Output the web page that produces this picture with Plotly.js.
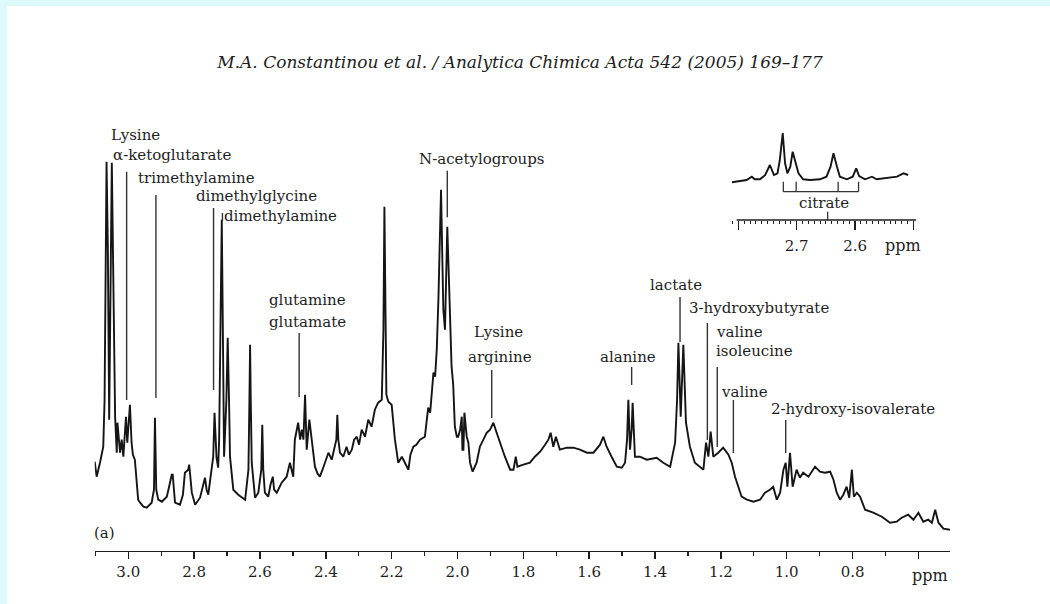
<!DOCTYPE html>
<html><head><meta charset="utf-8">
<script src="https://cdn.plot.ly/plotly-3.0.1.min.js"></script>
<style>html,body{margin:0;padding:0;background:#fff;} #chart{width:1050px;height:604px;}</style>
</head><body><div id="chart"></div>
<script>
// ---- data ----
const ppm = [3.102,3.096,3.086,3.076,3.072,3.069,3.066,3.062,3.058,3.050,3.046,3.040,3.035,3.033,3.025,3.020,3.015,3.007,3.003,2.995,2.990,2.986,2.980,2.974,2.970,2.964,2.954,2.944,2.929,2.922,2.919,2.915,2.909,2.898,2.883,2.876,2.868,2.865,2.858,2.843,2.834,2.828,2.818,2.815,2.807,2.797,2.782,2.767,2.762,2.757,2.747,2.742,2.738,2.732,2.727,2.724,2.719,2.716,2.713,2.709,2.702,2.698,2.694,2.691,2.681,2.666,2.645,2.635,2.632,2.630,2.628,2.625,2.615,2.605,2.596,2.593,2.590,2.585,2.575,2.568,2.561,2.557,2.549,2.534,2.519,2.509,2.499,2.494,2.484,2.478,2.473,2.468,2.463,2.458,2.450,2.443,2.433,2.425,2.418,2.410,2.402,2.392,2.382,2.372,2.368,2.365,2.362,2.357,2.347,2.337,2.330,2.321,2.314,2.306,2.299,2.291,2.281,2.271,2.261,2.251,2.241,2.230,2.225,2.222,2.219,2.216,2.210,2.200,2.190,2.180,2.169,2.159,2.149,2.143,2.134,2.125,2.114,2.099,2.089,2.083,2.073,2.068,2.063,2.058,2.055,2.050,2.046,2.043,2.038,2.034,2.031,2.026,2.023,2.018,2.013,2.008,2.002,1.998,1.992,1.987,1.985,1.982,1.979,1.972,1.967,1.962,1.954,1.942,1.932,1.922,1.911,1.901,1.891,1.881,1.871,1.856,1.840,1.830,1.823,1.818,1.800,1.780,1.765,1.749,1.734,1.724,1.717,1.709,1.701,1.689,1.668,1.648,1.628,1.607,1.587,1.567,1.557,1.547,1.532,1.516,1.501,1.491,1.485,1.481,1.476,1.471,1.468,1.464,1.461,1.446,1.425,1.395,1.375,1.354,1.339,1.333,1.329,1.322,1.314,1.306,1.294,1.279,1.263,1.253,1.245,1.238,1.231,1.223,1.208,1.193,1.177,1.167,1.157,1.147,1.137,1.121,1.101,1.081,1.066,1.051,1.041,1.030,1.020,1.010,1.003,0.998,0.990,0.982,0.970,0.960,0.950,0.934,0.914,0.899,0.884,0.868,0.858,0.848,0.838,0.828,0.818,0.810,0.802,0.796,0.787,0.777,0.762,0.737,0.711,0.686,0.666,0.651,0.631,0.615,0.600,0.585,0.570,0.559,0.549,0.539,0.524,0.504];
const intensity = [89,74,88,104,151,251,389,301,131,388,278,134,98,128,98,111,94,134,108,146,108,96,91,71,51,48,44,43,48,61,133,61,51,49,54,64,76,76,48,46,56,78,81,86,58,46,53,73,61,56,81,94,138,93,83,111,251,331,231,94,151,213,151,94,61,56,51,81,151,206,151,88,53,58,81,126,81,58,54,66,74,61,58,68,74,88,74,111,128,111,121,111,156,101,131,111,84,77,74,81,88,98,91,104,111,136,111,98,94,104,96,101,111,114,106,121,114,131,124,141,148,151,221,344,221,156,149,146,111,88,94,88,81,96,104,106,111,114,143,138,178,174,201,251,294,361,291,241,221,271,324,271,234,184,166,124,114,114,121,134,101,101,138,114,108,88,79,88,104,111,118,121,128,118,108,94,81,81,94,84,86,88,94,99,106,111,118,104,114,101,103,103,101,98,98,106,114,104,94,84,83,88,111,151,101,121,148,111,94,94,91,93,88,84,108,151,208,134,206,128,104,88,84,81,108,94,119,94,98,103,96,88,74,64,54,51,49,51,58,61,64,51,58,81,88,64,98,64,81,73,78,74,84,79,78,79,71,58,51,56,64,53,81,54,58,54,41,38,34,28,29,33,36,31,38,29,31,28,41,28,22,21];

const insetPpm = [2.811,2.797,2.786,2.777,2.772,2.763,2.754,2.746,2.739,2.733,2.729,2.724,2.720,2.716,2.711,2.707,2.703,2.697,2.689,2.677,2.660,2.649,2.642,2.637,2.631,2.626,2.614,2.604,2.598,2.593,2.583,2.571,2.563,2.546,2.528,2.517,2.509];
const insetIntensity = [2.7,4.3,5,8.3,5.7,5.7,10,20,10,11.7,25,52,21.7,11.7,18.3,33.3,25,11.7,5.7,5,5.7,8.3,18.3,31.7,18.3,8.3,5.7,8.3,16.7,9,5.7,8.3,5.7,6.7,8.3,11.7,10];

const tickValues = [3.0,2.8,2.6,2.4,2.2,2.0,1.8,1.6,1.4,1.2,1.0,0.8,0.6];
const tickLabels = ["3.0","2.8","2.6","2.4","2.2","2.0","1.8","1.6","1.4","1.2","1.0","0.8",""];
const insetTickValues = [2.8,2.7,2.6,2.5];
const insetTickLabels = ["","2.7","2.6",""];

const markerNames = ["α-ketoglutarate","trimethylamine","dimethylglycine","dimethylamine","glutamine/glutamate","N-acetylogroups","Lysine/arginine","alanine","lactate","3-hydroxybutyrate","valine/isoleucine","valine","2-hydroxy-isovalerate"];
const markerPpm = [3.005,2.916,2.741,2.714,2.481,2.031,1.896,1.471,1.324,1.241,1.211,1.162,1.003];
const citratePpm = [2.723,2.701,2.629,2.594];
const citrateCentre = 2.647;

const labelTexts = ["Lysine","α-ketoglutarate","trimethylamine","dimethylglycine","dimethylamine","N-acetylogroups","glutamine","glutamate","Lysine","arginine","alanine","lactate","3-hydroxybutyrate","valine","isoleucine","valine","2-hydroxy-isovalerate"];
const titleText = "M.A. Constantinou et al. / Analytica Chimica Acta 542 (2005) 169–177";

// ---- layout helpers (pixel -> paper) ----
const W = 1050, H = 604;
const X = p => p / W;
const Y = p => 1 - p / H;
const FONT = 'DejaVu Serif';
const INK = '#1e1e1e';

// label placement [left-or-centre x px, centre y px, anchor]
const labelPos = [
  [110,135,'left'],[111.7,155,'left'],[136.7,178,'left'],[195,195.7,'left'],[222.7,216,'left'],
  [481.7,159.3,'center'],[307.5,300,'center'],[307,321.7,'center'],[498.3,332,'center'],[500,356.7,'center'],
  [627.5,357.3,'center'],[675.7,285,'center'],[688.3,308.3,'left'],[715,331.7,'left'],[715,351,'left'],
  [720,391.7,'left'],[770,409.3,'left']
];
// marker line vertical extents in px
const markerSpan = [[171.7,400],[195,398],[208,390],[213,221],[333,397],[170.7,217.3],[370,418],[367,385],[297,342],[323,440],[367,447],[400,453],[420,453]];

const annotations = labelTexts.map((t,i)=>({
  text:t, xref:'paper', yref:'paper', x:X(labelPos[i][0]), y:Y(labelPos[i][1]),
  xanchor:labelPos[i][2], yanchor:'middle', showarrow:false, borderpad:0,
  font:{family:FONT,size:15,color:INK}
}));
annotations.push({text:'(a)',xref:'paper',yref:'paper',x:X(93),y:Y(533),xanchor:'left',yanchor:'middle',showarrow:false,borderpad:0,font:{family:FONT,size:15,color:INK}});
annotations.push({text:'ppm',xref:'paper',yref:'paper',x:X(930),y:Y(575),xanchor:'center',yanchor:'middle',showarrow:false,borderpad:0,font:{family:FONT,size:16,color:INK}});
annotations.push({text:'citrate',xref:'paper',yref:'paper',x:X(824),y:Y(202.7),xanchor:'center',yanchor:'middle',showarrow:false,borderpad:0,font:{family:FONT,size:15,color:INK}});
annotations.push({text:'ppm',xref:'paper',yref:'paper',x:X(903),y:Y(246),xanchor:'center',yanchor:'middle',showarrow:false,borderpad:0,font:{family:FONT,size:16,color:INK}});

const shapes = [
  {type:'rect',xref:'paper',yref:'paper',x0:0,x1:1,y0:Y(6),y1:1,fillcolor:'#dcfafa',line:{width:0},layer:'below'},
  {type:'rect',xref:'paper',yref:'paper',x0:0,x1:X(7),y0:0,y1:1,fillcolor:'#dcfafa',line:{width:0},layer:'below'}
];
markerPpm.forEach((p,i)=>{
  shapes.push({type:'line',xref:'x',yref:'paper',x0:p,x1:p,y0:Y(markerSpan[i][0]),y1:Y(markerSpan[i][1]),line:{color:'#333',width:1.4}});
});
// citrate bracket
shapes.push({type:'line',xref:'x2',yref:'paper',x0:citratePpm[0],x1:citratePpm[3],y0:Y(191.7),y1:Y(191.7),line:{color:'#333',width:1.3}});
citratePpm.forEach(p=>shapes.push({type:'line',xref:'x2',yref:'paper',x0:p,x1:p,y0:Y(191.7),y1:Y(181.7),line:{color:'#333',width:1.3}}));
shapes.push({type:'line',xref:'x2',yref:'paper',x0:citrateCentre,x1:citrateCentre,y0:Y(220),y1:Y(211.7),line:{color:'#333',width:1.3}});
// inset axis line
shapes.push({type:'line',xref:'x2',yref:'paper',x0:insetTickValues[0]+0.003,x1:insetTickValues[3]-0.005,y0:Y(220),y1:Y(220),line:{color:INK,width:1.5}});

const traces = [
  {x:ppm,y:intensity,type:'scatter',mode:'lines',line:{color:'#151515',width:1.9},xaxis:'x',yaxis:'y',hoverinfo:'skip'},
  {x:insetPpm,y:insetIntensity,type:'scatter',mode:'lines',line:{color:'#151515',width:1.9},xaxis:'x2',yaxis:'y2',hoverinfo:'skip'}
];

const layout = {
  width:W,height:H,autosize:false,showlegend:false,
  margin:{l:0,r:0,t:0,b:0,pad:0},
  paper_bgcolor:'#ffffff',plot_bgcolor:'rgba(0,0,0,0)',
  title:{text:'<i>'+titleText+'</i>',x:X(520),xanchor:'center',y:Y(62),yanchor:'middle',
         font:{family:FONT,size:17,color:INK}},
  xaxis:{domain:[X(94.7),X(950)],range:[3.102,0.504],showline:true,linecolor:INK,linewidth:1.6,
         ticks:'outside',ticklen:7,tickwidth:1.4,tickcolor:INK,tickmode:'array',tickvals:tickValues,ticktext:tickLabels,
         tickfont:{family:FONT,size:15,color:INK},ticklabelstandoff:0,showgrid:false,zeroline:false,fixedrange:true,
         minor:{tickmode:'linear',tick0:0,dtick:0.1,ticklen:4,tickwidth:1.4,tickcolor:INK,showgrid:false}},
  yaxis:{domain:[Y(550.7),Y(130)],range:[0,420.7],visible:false,fixedrange:true},
  xaxis2:{domain:[X(731.7),X(916)],range:[2.8115,2.4955],anchor:'free',position:Y(220),showline:false,
          ticks:'outside',ticklen:9,tickwidth:1.3,tickcolor:INK,tickmode:'array',tickvals:insetTickValues,ticktext:insetTickLabels,
          tickfont:{family:FONT,size:15,color:INK},ticklabelstandoff:3,showgrid:false,zeroline:false,fixedrange:true,
          minor:{tickmode:'linear',tick0:0,dtick:0.01,ticklen:3,tickwidth:1,tickcolor:INK,showgrid:false}},
  yaxis2:{domain:[Y(185),Y(130)],range:[0,55],anchor:'x2',visible:false,fixedrange:true},
  annotations:annotations,
  shapes:shapes
};
Plotly.newPlot('chart',traces,layout,{staticPlot:true,displayModeBar:false});
</script></body></html>
